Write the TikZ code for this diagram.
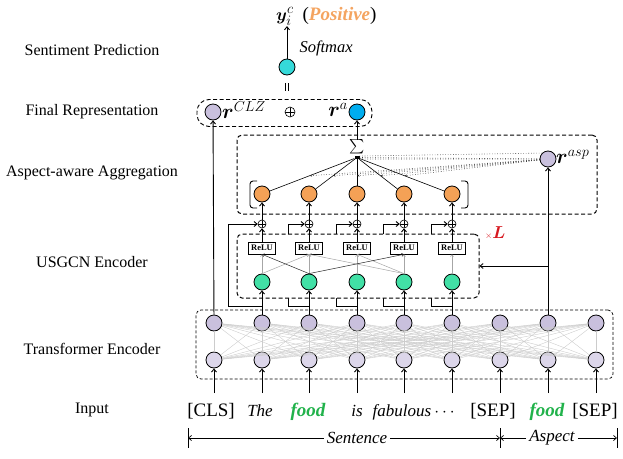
\documentclass[tikz,border=0pt]{standalone}
\usepackage{amsmath}
\usepackage{bm}
\usepackage{fontspec}
\setmainfont{Liberation Serif}
\usetikzlibrary{arrows.meta,calc}
\definecolor{purpT}{HTML}{C9C0DD}
\definecolor{purpB}{HTML}{DCD6EA}
\definecolor{grn}{HTML}{42E0A6}
\definecolor{org}{HTML}{F4A156}
\definecolor{cyn}{HTML}{35D9D9}
\definecolor{blu}{HTML}{00ADEF}
\definecolor{posc}{HTML}{F4A460}
\definecolor{foodc}{HTML}{21B24B}
\definecolor{redL}{HTML}{D71920}
\begin{document}
\begin{tikzpicture}[x=1pt,y=-1pt,
  circ/.style={circle,draw,line width=0.8pt,minimum size=16pt,inner sep=0pt},
  arr/.style={line width=0.9pt,-{Straight Barb[length=3pt,width=5pt]}},
  garr/.style={line width=0.5pt,-{Straight Barb[length=2pt,width=3pt]}},
  lab/.style={font=\fontsize{16}{18}\selectfont},
  tok/.style={anchor=base,inner sep=1pt},
  relu/.style={draw,line width=0.6pt,minimum width=27pt,minimum height=12pt,inner sep=0pt,font=\fontsize{8.5}{9}\selectfont\bfseries,fill=white},
  dbox/.style={draw,line width=1pt,dash pattern=on 4pt off 2.5pt,rounded corners=5pt,inner sep=0pt},
  rlab/.style={inner sep=0pt,font=\fontsize{20}{20}\selectfont},
  dots/.style={dotted,line width=0.6pt,black!80},
  opl/.style={circle,draw,line width=0.6pt,minimum size=8pt,inner sep=0pt,fill=white,
    path picture={\draw[line width=0.6pt] (path picture bounding box.north) -- (path picture bounding box.south) (path picture bounding box.west) -- (path picture bounding box.east);}}]
\useasboundingbox (0,0) rectangle (623,458);

% left labels
\node[lab] (l1) at (92,50) {Sentiment Prediction};
\node[lab] (l2) at (92,112) {Final Representation};
\node[lab] (l3) at (92,173) {Aspect-aware Aggregation};
\node[lab] (l4) at (92,262) {USGCN Encoder};
\node[lab] (l5) at (92,349) {Transformer Encoder};
\node[lab] (l6) at (92,410) {Input};

% transformer encoder
\node[draw,line width=0.7pt,dash pattern=on 3pt off 2pt,rounded corners=5pt,minimum width=417pt,minimum height=69pt,inner sep=0pt] (tbox) at (404.5,344.5) {};
\foreach \i/\x in {1/214,2/262,3/309,4/357,5/404,6/452,7/500,8/548,9/596}{
  \node[circ,fill=purpT] (t\i) at (\x,323) {};
  \node[circ,fill=purpB] (b\i) at (\x,360) {};
  \coordinate (s\i) at (\x,393);
  \draw[arr] (s\i) -- (b\i);
}
\foreach \i in {1,...,9}{
  \foreach \j in {1,...,9}{
    \draw[gray!40,line width=0.4pt] (b\i) -- (t\j);
  }
}

% input tokens
\node[tok,font=\fontsize{19}{20}\selectfont] (in1) at (211,416) {[CLS]};
\node[tok,font=\fontsize{17}{20}\selectfont\itshape] (in2) at (260,416) {The};
\node[tok,font=\fontsize{19}{20}\selectfont\bfseries\itshape,text=foodc] (in3) at (308,416) {food};
\node[tok,font=\fontsize{17}{20}\selectfont\itshape] (in4) at (357,416) {is};
\node[tok,font=\fontsize{17}{20}\selectfont\itshape] (in5) at (402,416) {fabulous};
\node[tok,font=\fontsize{17}{20}\selectfont] (in6) at (446,416) {$\cdots$};
\node[tok,font=\fontsize{19}{20}\selectfont] (in7) at (493,416) {[SEP]};
\node[tok,font=\fontsize{19}{20}\selectfont\bfseries\itshape,text=foodc] (in8) at (547,416) {food};
\node[tok,font=\fontsize{19}{20}\selectfont] (in9) at (595,416) {[SEP]};

% sentence / aspect span
\coordinate (kL) at (188,438);
\coordinate (kM) at (500,438);
\coordinate (kR) at (617,438);
\draw[line width=0.8pt] (188,428) -- (188,448);
\draw[line width=0.8pt] (500,428) -- (500,448);
\draw[line width=0.8pt] (617,428) -- (617,448);
\node[font=\fontsize{17}{20}\selectfont\itshape,inner sep=3pt] (sen) at (357,438) {Sentence};
\node[font=\fontsize{17}{20}\selectfont\itshape,inner sep=3pt] (aspt) at (552,438) {Aspect};
\draw[arr,line width=0.7pt] (sen.west) -- (kL);
\draw[arr,line width=0.7pt] (sen.east) -- (kM);
\draw[arr,line width=0.7pt] (aspt.west) -- (kM);
\draw[arr,line width=0.7pt] (aspt.east) -- (kR);

% residual branches (behind USGCN box)
\foreach \j/\x/\lx in {1/262/228,2/309/288,3/357/336,4/404/383,5/452/431}{
  \coordinate (br\j) at (\x,306);
  \coordinate (bl\j) at (\lx,306);
  \coordinate (bu\j) at (\lx,224);
  \draw[line width=0.9pt] (br\j) -- (bl\j) -- (bu\j);
}

% USGCN box
\node[dbox,fill=white,minimum width=242pt,minimum height=64pt] (ubox) at (358,266) {};
\node[anchor=west,inner sep=0pt,text=redL] (xl) at (485,233) {\fontsize{9}{9}\selectfont$\times$\fontsize{18}{18}\selectfont$\bm{L}$};

\foreach \j/\x in {1/262,2/309,3/357,4/404,5/452}{
  \node[circ,fill=grn] (g\j) at (\x,282) {};
  \node[relu] (R\j) at (\x,248) {ReLU};
  \node[opl] (p\j) at (\x,224) {};
  \node[circ,fill=org] (o\j) at (\x,194) {};
}
\foreach \j/\t in {1/2,2/3,3/4,4/5,5/6}{
  \draw[arr] (t\t) -- (g\j);
  \draw[arr] (bu\j) -- (p\j.west);
  \draw[garr,gray!70] (g\j.north) -- (R\j.south);
  \draw[arr] (R\j.north) -- (p\j.south);
  \draw[arr] (p\j.north) -- (o\j);
}
% cross connections
\draw[garr,gray!70] (g1.north) -- (R2.south);
\draw[garr,gray!70] (g4.north) -- (R2.south);
\draw[garr,gray!70] (g4.north) -- (R3.south);
\draw[garr,black!85] (g2.north) -- (R1.south);
\draw[garr,black!85] (g2.north) -- (R4.south);

% aspect-aware aggregation
\node[dbox,minimum width=360pt,minimum height=79pt] (abox) at (417,174.5) {};
\draw[line width=0.9pt,rounded corners=3pt] (257,181) -- (250,181) -- (250,208) -- (257,208);
\draw[line width=0.9pt,rounded corners=3pt] (461,181) -- (468,181) -- (468,208) -- (461,208);
\node[inner sep=0pt,font=\fontsize{15}{15}\selectfont] (sig) at (357,147) {$\textstyle\sum$};
\node[fill=black,inner sep=0pt,minimum width=5pt,minimum height=2.5pt] (sp) at (357,157.5) {};
\node[circ,fill=purpT] (rasp) at (548,159) {};
\node[rlab,anchor=west] (lasp) at (556,157) {$\bm{r}^{asp}$};
\draw[arr] (t8) -- (rasp);
\coordinate (uin) at (548,266);
\draw[arr] (uin) -- (ubox.east |- uin);
\foreach \j in {1,...,5}{
  \draw[line width=0.6pt] (sp) -- (o\j);
  \draw[dots,-{Stealth[length=2.5pt,width=2pt]}] (rasp) -- ($(sp)!0.5!(o\j)$);
}
\draw[dots] (rasp) -- (sp.east);
\draw[dots] (rasp.north west) -- (sp.north east);
\draw[dots] (rasp.west) -- (sp.south east);

% final representation
\node[draw,line width=0.9pt,dash pattern=on 4pt off 2.5pt,rounded corners=12pt,minimum width=175pt,minimum height=27pt,inner sep=0pt] (fbox) at (284.5,113) {};
\node[circ,fill=purpT] (rc) at (213,112) {};
\node[circ,fill=blu] (ra) at (357,112) {};
\node[rlab,anchor=west] (lrc) at (222,110) {$\bm{r}^{CLZ}$};
\node[rlab,anchor=east] (lra) at (348,110) {$\bm{r}^{a}$};
\node[opl,minimum size=10pt] (fop) at (290,112) {};
\draw[arr] (t1) -- (rc);
\draw[arr] (sig.north) -- (ra);

% sentiment prediction
\draw[line width=1pt] (285.3,83) -- (285.3,91);
\draw[line width=1pt] (288.7,83) -- (288.7,91);
\node[circ,fill=cyn] (sent) at (287,67) {};
\node[anchor=base west,inner sep=0pt,font=\fontsize{19}{20}\selectfont] (yout) at (276,20) {$\bm{y}_i^c$\hspace{9pt}(\textcolor{posc}{\textbf{\textit{Positive}}})};
\node[anchor=west,font=\fontsize{16.5}{18}\selectfont\itshape] (smx) at (296,48) {Softmax};
\draw[arr] (sent) -- (sent |- yout.south);
\end{tikzpicture}
\end{document}
